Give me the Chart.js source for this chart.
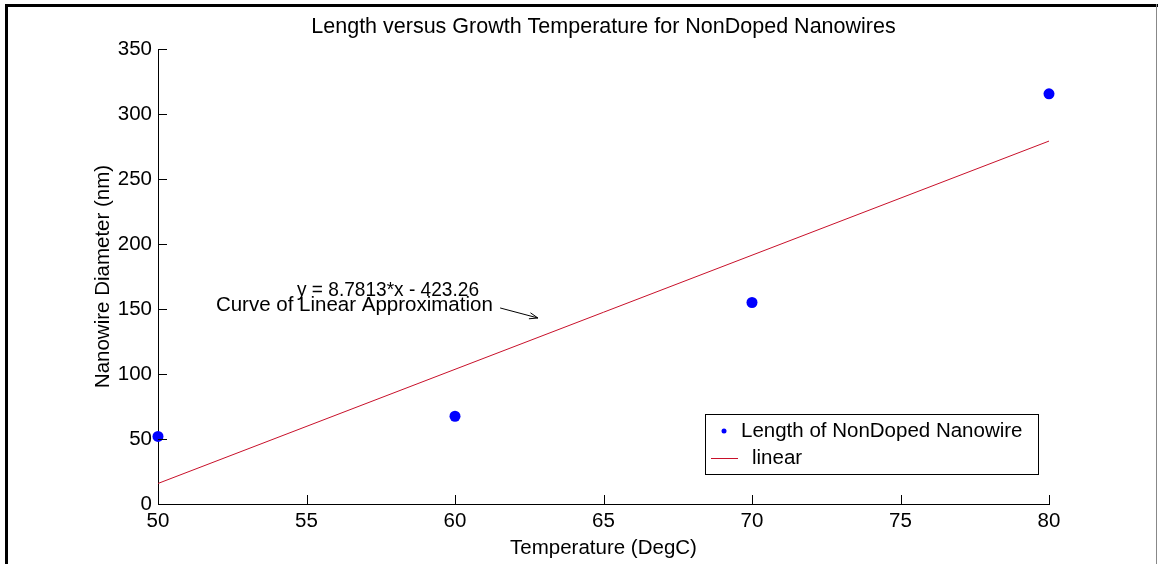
<!DOCTYPE html>
<html>
<head>
<meta charset="utf-8">
<script src="https://cdn.jsdelivr.net/npm/chart.js@4"></script>
<style>
  html, body { margin: 0; padding: 0; background: #fff; }
  #wrap { width: 1158px; height: 564px; position: relative; }
</style>
</head>
<body>
<div id="wrap"><canvas id="rel1" width="1158" height="564"></canvas></div>
<script>
// measured lengths
var temp_list = [50, 60, 70, 80];
var length_list = [52, 67.5, 155, 315.5];

// fitted line y = 8.7813*x - 423.26, evaluated at the ends of the range
var fit_x = [50, 80];
var fit_y = [15.805, 279.179];

var x_ticks = [50, 55, 60, 65, 70, 75, 80];
var y_ticks = [0, 50, 100, 150, 200, 250, 300, 350];

var FONT = '"Liberation Sans", Arial, Helvetica, sans-serif';
var FS = 20.5;

// draws the frame, inward ticks, titles, legend and the note with arrow
var extras = {
	id: 'extras',
	beforeDraw: function(chart) {
		var c = chart.ctx;
		c.save();
		c.fillStyle = '#fff';
		c.fillRect(0, 0, chart.width, chart.height);
		c.restore();
	},
	afterDraw: function(chart) {
		var c = chart.ctx, xs = chart.scales.x, ys = chart.scales.y;
		var a = chart.chartArea;
		c.save();

		// figure frame
		c.fillStyle = '#000';
		c.fillRect(5, 4, 3, chart.height - 4);
		c.fillRect(5, 4, chart.width - 5, 3);
		c.fillStyle = '#888';
		c.fillRect(chart.width - 2, 4, 1, chart.height - 4);

		// inward ticks
		c.strokeStyle = '#000';
		c.lineWidth = 1;
		c.beginPath();
		x_ticks.forEach(function(v) {
			var px = Math.round(xs.getPixelForValue(v)) + 0.5;
			c.moveTo(px, a.bottom);
			c.lineTo(px, a.bottom - 9);
		});
		y_ticks.forEach(function(v) {
			var py = Math.round(ys.getPixelForValue(v)) + 0.5;
			c.moveTo(a.left, py);
			c.lineTo(a.left + 9, py);
		});
		c.stroke();

		// titles
		c.fillStyle = '#000';
		c.font = '21.5px ' + FONT;
		c.textAlign = 'center';
		c.textBaseline = 'middle';
		var cx = (a.left + a.right) / 2;
		c.fillText('Length versus Growth Temperature for NonDoped Nanowires', cx, 27);
		c.font = FS + 'px ' + FONT;
		c.fillText('Temperature (DegC)', cx, 548);
		c.save();
		c.translate(103, (a.top + a.bottom) / 2);
		c.rotate(-Math.PI / 2);
		c.fillText('Nanowire Diameter (nm)', 0, 0);
		c.restore();

		// note on the fitted line
		c.textAlign = 'left';
		c.textBaseline = 'alphabetic';
		c.fillText('y = 8.7813*x - 423.26', xs.getPixelForValue(54.68), ys.getPixelForValue(160), 182);
		c.fillText('Curve of Linear Approximation', xs.getPixelForValue(51.95), ys.getPixelForValue(148.5));
		var x0 = xs.getPixelForValue(61.52), y0 = ys.getPixelForValue(150.8);
		var x1 = xs.getPixelForValue(62.79), y1 = ys.getPixelForValue(143.1);
		var ang = Math.atan2(y1 - y0, x1 - x0);
		c.beginPath();
		c.moveTo(x0, y0);
		c.lineTo(x1, y1);
		c.moveTo(x1 - 9 * Math.cos(ang - 0.35), y1 - 9 * Math.sin(ang - 0.35));
		c.lineTo(x1, y1);
		c.lineTo(x1 - 9 * Math.cos(ang + 0.35), y1 - 9 * Math.sin(ang + 0.35));
		c.stroke();

		// legend box
		var lx = 705, ly = 414, lw = 333, lh = 60;
		c.fillStyle = '#fff';
		c.fillRect(lx, ly, lw, lh);
		c.strokeStyle = '#000';
		c.strokeRect(lx + 0.5, ly + 0.5, lw, lh);
		var ds = chart.data.datasets;
		c.fillStyle = ds[0].backgroundColor;
		c.beginPath();
		c.arc(lx + 19, ly + 17, 2.5, 0, Math.PI * 2);
		c.fill();
		c.strokeStyle = ds[1].borderColor;
		c.beginPath();
		c.moveTo(lx + 6, ly + 44.5);
		c.lineTo(lx + 33, ly + 44.5);
		c.stroke();
		c.fillStyle = '#000';
		c.textBaseline = 'middle';
		c.fillText(ds[0].label, lx + 36, ly + 17);
		c.fillText(ds[1].label, lx + 47, ly + 44);
		c.restore();
	}
};

var rel1 = new Chart(document.getElementById('rel1'), {
	type: 'scatter',
	data: {
		datasets: [{
			label: 'Length of NonDoped Nanowire',
			data: temp_list.map(function(t, i) { return {x: t, y: length_list[i]}; }),
			backgroundColor: '#0000FF',
			borderColor: '#0000FF',
			pointRadius: 5.5,
			pointBorderWidth: 0,
			clip: false,
			order: 0
		}, {
			label: 'linear',
			data: fit_x.map(function(t, i) { return {x: t, y: fit_y[i]}; }),
			showLine: true,
			borderColor: '#c8102a',
			borderWidth: 1,
			pointRadius: 0,
			order: 1
		}]
	},
	options: {
		responsive: false,
		animation: false,
		layout: { padding: { left: 0, right: 109, top: 49, bottom: 0 } },
		plugins: { legend: { display: false }, tooltip: { enabled: false } },
		scales: {
			x: {
				type: 'linear', min: 50, max: 80,
				afterFit: function(s) { s.height = 60; },
				afterBuildTicks: function(s) { s.ticks = x_ticks.map(function(v) { return {value: v}; }); },
				grid: { display: false, drawTicks: false },
				border: { display: true, color: '#000', width: 1 },
				ticks: { color: '#000', padding: 5, font: { family: FONT, size: FS }, maxRotation: 0 }
			},
			y: {
				type: 'linear', min: 0, max: 350,
				afterFit: function(s) { s.width = 158; },
				afterBuildTicks: function(s) { s.ticks = y_ticks.map(function(v) { return {value: v}; }); },
				grid: { display: false, drawTicks: false },
				border: { display: true, color: '#000', width: 1 },
				ticks: { color: '#000', padding: 6, font: { family: FONT, size: FS } }
			}
		}
	},
	plugins: [extras]
});
</script>
</body>
</html>
